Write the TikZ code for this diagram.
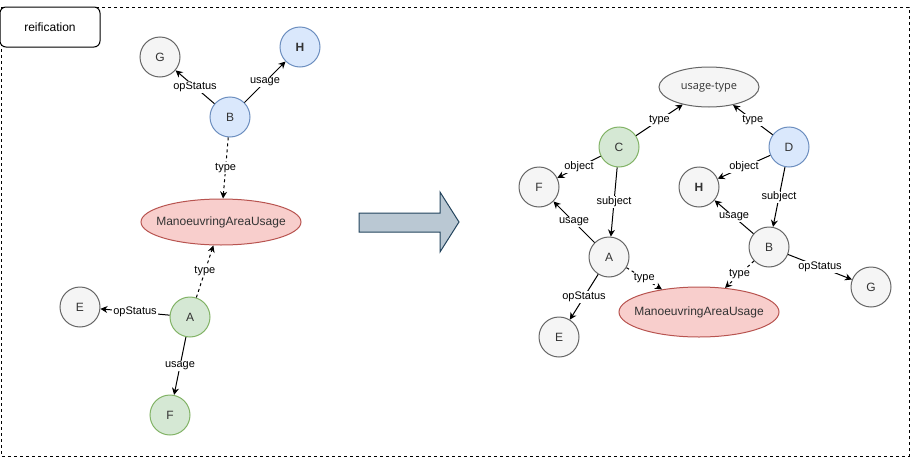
\documentclass[tikz,border=0pt]{standalone}
\usepackage{fontspec}
\setmainfont{Liberation Sans}
\newfontfamily\typefont{Open Sans}
\usepackage{xcolor}
\definecolor{rdfGray}{HTML}{F5F5F5}
\definecolor{rdfGrayLine}{HTML}{666666}
\definecolor{rdfBlue}{HTML}{DAE8FC}
\definecolor{rdfBlueLine}{HTML}{6C8EBF}
\definecolor{rdfGreen}{HTML}{D5E8D4}
\definecolor{rdfGreenLine}{HTML}{82B366}
\definecolor{rdfRed}{HTML}{F8CECC}
\definecolor{rdfRedLine}{HTML}{B85450}
\definecolor{bigArrow}{HTML}{BAC8D3}
\definecolor{bigArrowLine}{HTML}{23445D}
\definecolor{rdfInk}{HTML}{333333}
\usepackage{tikz}
\usetikzlibrary{arrows.meta, shapes.geometric}

\begin{document}
\begin{tikzpicture}[
  x=1pt, y=-1pt,
  every node/.style={font=\fontsize{12}{14}\selectfont},
  res/.style={circle, draw=rdfGrayLine, fill=rdfGray, line width=1pt,
              minimum size=40pt, inner sep=0pt, text=rdfInk},
  resBlue/.style={res, draw=rdfBlueLine, fill=rdfBlue},
  resGreen/.style={res, draw=rdfGreenLine, fill=rdfGreen},
  cls/.style={ellipse, draw=rdfRedLine, fill=rdfRed, line width=1pt,
              minimum width=160pt, minimum height=46pt, inner sep=0pt, text=rdfInk},
  link/.style={-{Stealth[length=7pt, width=7pt]}, line width=1pt},
  typelink/.style={link, dash pattern=on 3pt off 3pt},
  lbl/.style={font=\fontsize{11}{13}\selectfont, fill=white, inner sep=1pt},
]
\useasboundingbox (0,0) rectangle (911,458);

% Frame and title
\draw[line width=1pt, dash pattern=on 3pt off 3pt] (1,7) rectangle (909,456);
\node[draw, fill=white, rounded corners=6pt, line width=1pt,
      minimum width=100pt, minimum height=40pt] (title) at (50,27) {reification};

% Left: direct statements
\node[res]      (lG) at (160,57)  {G};
\node[resBlue]  (lH) at (300,47)  {\textbf{H}};
\node[resBlue]  (lB) at (230,117) {B};
\node[cls]      (lM) at (221,222) {\makebox[0pt]{ManoeuvringAreaUsage}};
\node[res]      (lE) at (80,307)  {E};
\node[resGreen] (lA) at (190,317) {A};
\node[resGreen] (lF) at (170,415) {F};

\draw[link] (lB) -- node[lbl] {opStatus} (lG);
\draw[link] (lB) -- node[lbl] {usage} (lH);
\draw[typelink] (lB) -- node[lbl] {type} (lM);
\draw[typelink] (lA) -- node[lbl] {type} (lM);
\draw[link] (lA) -- node[lbl] {opStatus} (lE);
\draw[link] (lA) -- node[lbl] {usage} (lF);

% Transformation arrow
\draw[line width=1pt, draw=bigArrowLine, fill=bigArrow]
  (359,213) -- (440,213) -- (440,192) -- (459,222) -- (440,252)
  -- (440,232) -- (359,232) -- cycle;

% Right: reified statements
\node[ellipse, draw=rdfGrayLine, fill=rdfGray, line width=1pt, minimum width=100pt,
      minimum height=40pt, inner sep=0pt, text=rdfInk,
      font=\typefont\fontsize{11}{13}\selectfont] (rU) at (709,87) {\makebox[0pt]{usage-type}};
\node[resGreen] (rC) at (619,147) {C};
\node[resBlue]  (rD) at (789,147) {D};
\node[res]      (rF) at (539,187) {F};
\node[res]      (rH) at (699,187) {\textbf{H}};
\node[res]      (rA) at (609,257) {A};
\node[res]      (rB) at (769,247) {B};
\node[res]      (rG) at (871,287) {G};
\node[res]      (rE) at (559,337) {E};
\node[cls, minimum height=50pt] (rM) at (699,312) {\makebox[0pt]{ManoeuvringAreaUsage}};

\draw[link] (rC) -- node[lbl] {type} (rU);
\draw[link] (rD) -- node[lbl] {type} (rU);
\draw[link] (rC) -- node[lbl] {object} (rF);
\draw[link] (rD) -- node[lbl] {object} (rH);
\draw[link] (rC) -- node[lbl] {subject} (rA);
\draw[link] (rD) -- node[lbl] {subject} (rB);
\draw[link] (rA) -- node[lbl] {usage} (rF);
\draw[link] (rB) -- node[lbl] {usage} (rH);
\draw[typelink] (rA) -- node[lbl] {type} (rM);
\draw[typelink] (rB) -- node[lbl] {type} (rM);
\draw[link] (rB) -- node[lbl] {opStatus} (rG);
\draw[link] (rA) -- node[lbl] {opStatus} (rE);

\end{tikzpicture}
\end{document}
